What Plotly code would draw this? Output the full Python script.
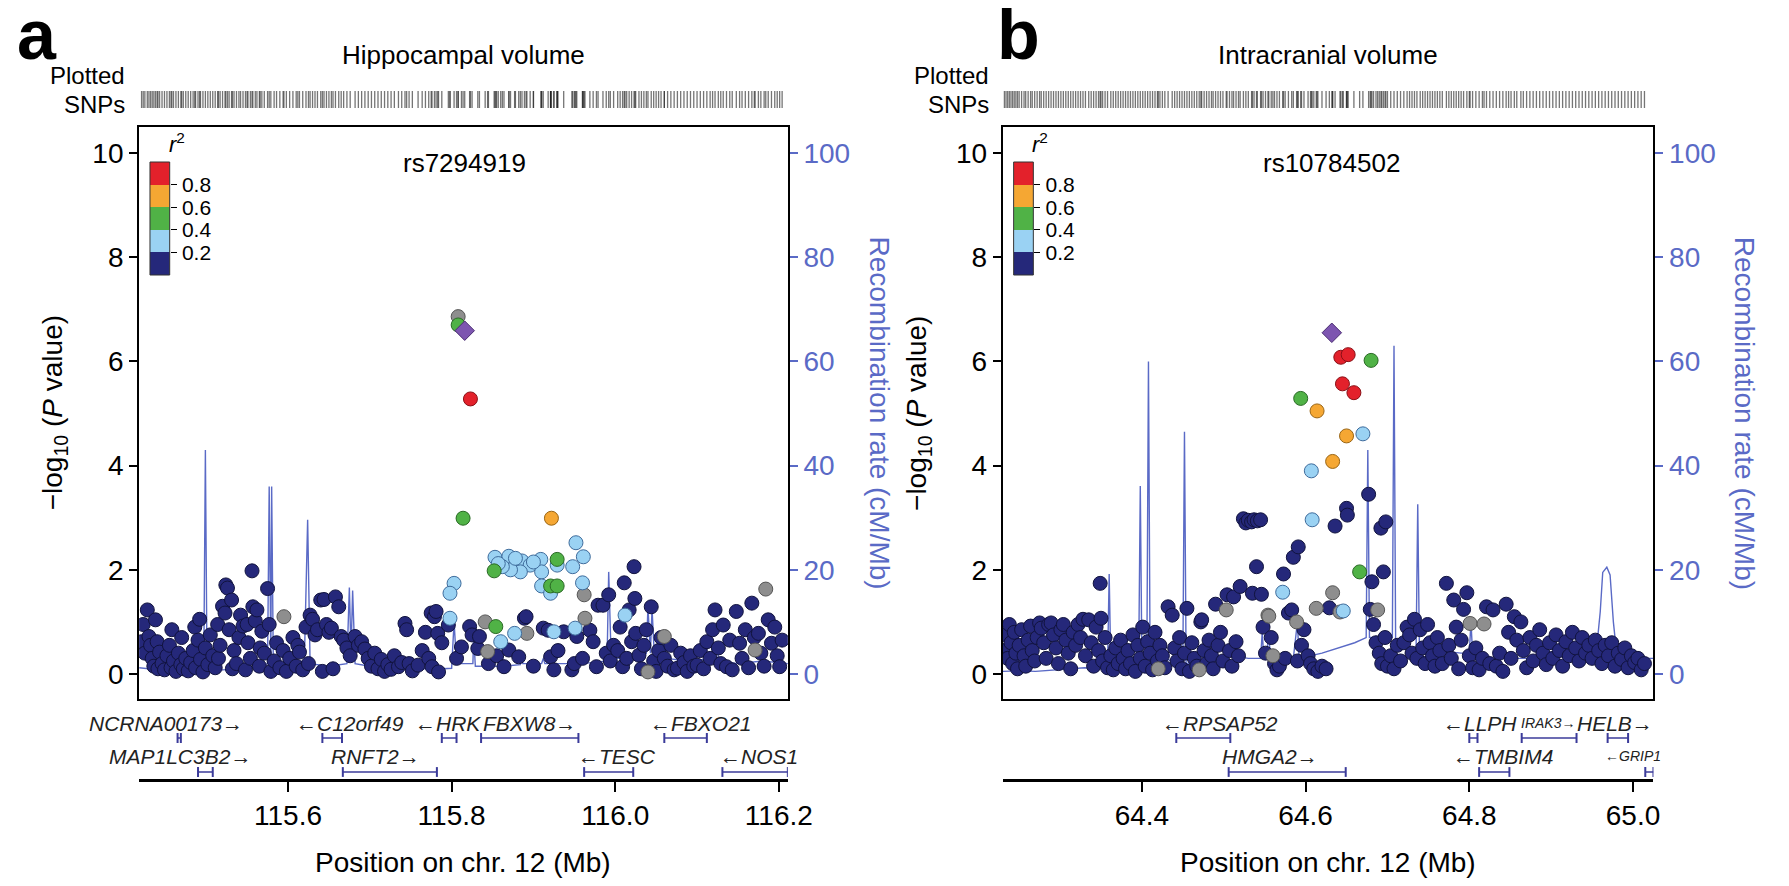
import plotly.graph_objects as go

# ---------------- DATA : panel a (Hippocampal volume) ----------------
a_navy_pos = [115.421,115.423,115.425,115.428,115.430,115.432,115.434,115.436,115.438,115.440,
    115.441,115.443,115.446,115.449,115.452,115.455,115.457,115.458,115.460,115.463,
    115.466,115.469,115.470,115.472,115.475,115.478,115.481,115.484,115.486,115.487,
    115.490,115.492,115.493,115.496,115.499,
    115.502,115.505,115.508,115.511,115.514,115.515,115.517,115.520,115.523,115.524,
    115.526,115.528,115.531,115.532,115.534,115.537,115.540,115.542,115.545,115.548,
    115.550,115.551,115.554,115.556,115.557,115.560,115.562,115.565,115.566,115.568,
    115.571,115.575,115.577,115.579,
    115.583,115.586,115.590,115.594,115.598,115.602,115.606,115.610,115.612,115.614,
    115.618,115.622,115.625,115.627,115.630,115.633,115.636,115.640,115.642,115.644,
    115.647,115.650,115.653,115.655,115.658,115.662,115.665,115.668,115.672,115.676,
    115.682,115.686,115.690,115.694,115.698,115.702,115.706,115.710,115.714,115.718,
    115.722,115.726,115.730,115.735,115.739,115.743,115.745,115.748,115.752,115.759,
    115.764,115.768,115.772,115.775,115.776,115.779,115.781,115.783,115.784,115.788,
    115.796,115.806,115.812,115.822,115.825,115.832,115.834,115.845,115.855,115.864,
    115.870,115.882,115.889,115.891,115.900,115.912,115.918,115.921,115.925,115.930,
    115.937,115.947,115.950,115.953,115.960,115.969,115.973,115.977,115.979,115.985,
    115.989,115.992,115.994,115.998,
    116.003,116.006,116.009,116.011,116.014,116.017,116.020,116.023,116.024,116.025,
    116.029,116.032,116.035,116.038,116.044,116.047,116.050,116.053,116.056,116.060,
    116.064,116.068,116.072,116.076,116.080,116.084,116.088,116.092,116.096,116.100,
    116.104,116.108,116.112,116.116,116.119,116.122,116.126,116.129,116.132,116.136,
    116.140,116.143,116.148,116.152,116.155,116.159,116.163,116.167,116.170,116.175,
    116.178,116.182,116.187,116.191,116.195,116.198,116.201,116.204]
a_navy_logp = [0.62,0.95,0.40,1.23,0.72,0.55,0.30,0.15,1.04,0.62,
    0.10,0.42,0.20,0.08,0.35,0.55,0.12,0.85,0.25,0.05,
    0.40,0.18,0.70,0.10,0.30,0.06,0.22,0.45,0.90,0.12,
    0.65,1.05,0.28,0.04,0.50,
    0.18,0.75,0.35,0.12,0.95,0.30,0.55,1.30,1.17,1.71,
    1.65,0.85,1.42,0.10,0.45,0.20,0.70,1.13,0.92,0.08,
    0.95,0.60,0.30,1.98,1.29,1.02,1.23,0.15,0.50,0.82,
    0.40,1.64,0.95,0.05,
    0.25,0.60,0.12,0.45,0.05,0.30,0.70,0.15,0.55,0.42,
    0.08,0.90,0.20,1.13,1.05,0.75,0.85,1.42,0.05,1.43,
    0.95,0.80,0.88,0.10,1.48,1.29,0.72,0.65,0.50,0.35,
    0.72,0.55,0.62,0.48,0.30,0.15,0.40,0.10,0.28,0.05,
    0.18,0.09,0.35,0.14,0.22,0.97,0.85,0.20,0.06,0.17,
    0.45,0.80,0.30,1.17,0.14,1.10,1.20,0.78,0.04,0.60,
    0.94,0.30,0.52,0.91,0.75,0.49,0.72,0.20,0.35,0.14,
    0.46,0.33,1.07,1.10,0.15,0.88,0.84,0.33,0.08,0.45,
    0.81,0.08,0.20,0.72,0.30,0.84,0.62,0.14,1.32,1.32,
    0.40,1.52,0.25,0.55,
    0.45,0.90,0.14,1.75,0.30,1.23,0.62,2.06,1.45,0.78,
    0.36,0.10,0.55,0.85,1.29,0.25,0.05,0.45,0.70,0.30,
    0.15,0.55,0.08,0.11,0.40,0.22,0.05,0.35,0.15,0.17,
    0.45,0.10,0.62,0.30,0.85,1.23,0.50,0.20,0.94,0.14,
    0.65,0.08,1.20,0.59,0.30,0.85,0.12,1.36,0.70,0.78,
    0.40,0.15,1.04,0.59,0.90,0.35,0.14,0.65]
a_lb_pos = [115.952,115.961,115.948,115.853,115.870,115.886,115.896,115.909,115.884,115.872,
    115.862,115.910,115.929,115.910,115.921,115.960,115.803,115.798,115.798,116.012,
    115.860,115.877,115.925,115.951,115.857,115.878,115.900]
a_lb_logp = [2.52,2.25,2.06,2.24,2.26,2.17,2.09,2.20,1.96,2.00,
    2.06,1.96,2.09,1.69,1.55,1.75,1.74,1.55,1.07,1.13,
    0.62,0.78,0.81,0.88,2.12,2.22,2.15]
a_green_pos = [115.808,115.814,115.852,115.929,115.921,115.929,115.854]
a_green_logp = [6.70,2.99,1.98,2.20,1.69,1.69,0.91]
a_orange_pos = [115.922]
a_orange_logp = [2.99]
a_red_pos = [115.823]
a_red_logp = [5.28]
a_gray_pos = [115.595,115.808,115.841,115.844,115.892,115.962,115.963,116.040,116.060,116.171,116.184]
a_gray_logp = [1.10,6.86,1.00,0.43,0.78,1.52,1.07,0.04,0.72,0.46,1.63]
a_lead_pos = [115.816]
a_lead_logp = [6.59]
a_lead_name = "rs7294919"

a_rec_pos = [115.418,115.440,115.460,115.480,115.497,115.499,115.501,115.520,115.540,115.560,
    115.575,115.577,115.579,115.580,115.582,115.600,115.620,115.624,115.627,115.650,
    115.672,115.675,115.677,115.679,115.682,115.700,115.730,115.760,115.790,115.800,
    115.803,115.806,115.826,115.827,115.829,115.860,115.862,115.864,115.884,115.885,
    115.887,115.910,115.912,115.914,115.960,115.990,115.992,115.995,116.020,116.038,
    116.040,116.043,116.045,116.048,116.055,116.056,116.058,116.060,116.062,116.090,
    116.122,116.124,116.127,116.150,116.180,116.211]
a_rec_rate = [1.2,0.8,0.5,0.6,0.8,43.0,1.0,0.8,1.0,1.2,
    2.0,36.0,3.0,36.0,2.5,2.0,2.5,29.6,2.0,1.5,
    2.0,16.6,4.0,16.0,2.0,1.5,1.2,1.0,1.0,1.1,
    10.0,2.0,2.0,7.2,1.5,1.5,3.5,1.5,1.8,4.0,
    2.0,2.0,3.0,2.0,2.0,2.5,19.6,3.0,3.0,4.0,
    12.9,4.0,12.5,3.0,3.0,8.4,3.0,8.0,3.0,2.5,
    3.0,5.2,2.5,2.0,2.5,2.0]

a_gene_name = ["NCRNA00173", "C12orf49", "HRK", "FBXW8", "FBXO21", "MAP1LC3B2", "RNFT2", "TESC", "NOS1"]
a_gene_start = [115.465, 115.642, 115.788, 115.836, 116.060, 115.490, 115.667, 115.962, 116.131]
a_gene_end = [115.469, 115.666, 115.806, 115.955, 116.112, 115.508, 115.782, 116.022, 116.211]
a_gene_strand = ["+", "-", "-", "+", "-", "+", "+", "-", "-"]
a_gene_row = [1, 1, 1, 1, 1, 2, 2, 2, 2]
a_gene_label_mb = [115.451, 115.676, 115.796, 115.895, 116.105, 115.468, 115.707, 116.002, 116.176]
a_ticks = [115.6, 115.8, 116.0, 116.2]
a_ticktext = ["115.6", "115.8", "116.0", "116.2"]

# ---------------- DATA : panel b (Intracranial volume) ----------------
b_navy_pos = [64.232,64.234,64.236,64.238,64.240,64.242,64.244,64.246,64.248,64.250,
    64.253,64.256,64.258,64.261,64.264,64.266,64.269,64.272,64.275,64.277,
    64.280,64.283,64.286,64.289,64.292,64.295,64.298,64.301,64.304,64.307,
    64.310,64.313,64.316,64.319,64.322,64.325,64.328,64.331,64.335,64.338,
    64.341,64.344,64.347,64.349,64.350,64.352,64.355,64.358,
    64.362,64.365,64.368,64.371,64.374,64.377,64.380,64.383,64.386,64.389,
    64.392,64.395,64.398,64.401,64.404,64.407,64.410,64.413,64.416,64.419,
    64.422,64.425,64.428,64.432,64.437,64.440,64.443,64.446,64.449,64.452,
    64.455,64.458,64.461,64.464,64.467,64.472,64.473,64.476,64.479,
    64.482,64.485,64.487,64.490,64.493,64.496,64.499,64.504,64.507,64.510,
    64.512,64.515,64.518,64.520,64.524,64.527,64.530,64.534,64.535,64.537,
    64.540,64.541,64.545,64.546,64.548,64.551,64.558,64.562,64.565,64.568,
    64.573,64.575,64.579,64.583,64.585,64.590,64.591,64.595,64.598,
    64.603,64.606,64.610,64.615,64.620,64.625,64.629,64.636,64.650,64.651,
    64.677,64.679,64.681,64.683,64.686,64.690,64.692,64.693,64.695,64.697,
    64.698,64.700,64.704,64.708,64.712,64.716,64.720,
    64.724,64.727,64.730,64.733,64.736,64.740,64.743,64.746,64.749,64.752,
    64.755,64.758,64.761,64.764,64.767,64.772,64.775,64.778,64.781,64.784,
    64.787,64.790,64.793,64.797,64.800,64.804,64.808,64.812,64.816,64.821,
    64.825,64.829,64.833,64.837,64.841,64.845,64.848,64.851,64.855,64.858,
    64.863,64.866,64.870,64.874,64.878,64.882,64.886,64.890,64.894,64.898,
    64.902,64.906,64.910,64.914,64.918,64.922,64.926,64.930,64.934,64.938,
    64.942,64.946,64.950,64.954,64.958,64.962,64.966,64.970,64.974,64.978,
    64.982,64.986,64.990,64.994,64.998,65.002,65.006,65.010,65.014]
b_navy_logp = [0.45,0.75,0.30,0.95,0.60,0.20,0.80,0.40,0.10,0.55,
    0.85,0.35,0.15,0.65,0.92,0.45,0.25,0.70,0.98,0.88,
    0.60,0.30,0.95,0.98,0.75,0.50,0.20,0.85,0.95,0.65,
    0.40,0.10,0.80,0.55,0.95,0.70,1.05,0.35,1.04,0.60,
    0.15,0.90,0.45,1.74,1.07,0.25,0.70,0.12,
    0.35,0.08,0.50,0.20,0.65,0.30,0.10,0.45,0.20,0.75,
    0.05,0.55,0.30,0.90,0.15,0.62,0.40,0.08,0.80,0.25,
    0.55,0.35,0.12,1.29,1.13,0.50,0.25,0.70,0.10,0.40,
    1.26,0.05,0.60,0.30,0.15,1.00,1.04,0.45,0.20,
    0.65,0.35,0.10,1.34,0.55,0.80,0.25,1.52,0.45,0.15,
    1.48,0.62,0.35,1.68,2.98,2.90,2.95,2.92,1.55,2.96,
    2.06,2.94,2.96,1.53,0.90,0.40,0.70,0.20,0.08,0.15,
    1.92,0.30,1.17,1.23,2.24,0.25,2.44,0.55,0.85,
    0.35,0.20,0.10,0.05,0.15,0.10,1.27,2.84,3.18,3.05,
    3.45,1.24,1.77,0.95,0.60,0.40,2.80,0.20,1.96,0.70,
    2.92,0.15,0.35,0.10,0.55,0.25,0.60,
    0.90,0.75,0.40,1.05,0.30,0.85,0.50,0.20,0.95,0.60,
    0.35,0.15,0.70,0.45,0.20,1.74,0.55,0.30,1.42,0.90,
    0.10,0.65,1.24,1.56,0.35,0.12,0.50,0.08,0.30,1.29,
    0.20,1.23,0.15,0.40,0.05,1.34,0.80,0.30,1.10,0.65,
    1.00,0.45,0.12,0.70,0.25,0.55,0.85,0.40,0.18,0.60,
    0.30,0.75,0.45,0.15,0.62,0.35,0.80,0.50,0.25,0.70,
    0.40,0.55,0.30,0.65,0.45,0.20,0.55,0.35,0.60,0.15,
    0.40,0.28,0.50,0.12,0.35,0.22,0.30,0.08,0.20]
b_lb_pos = [64.670, 64.607, 64.608, 64.572, 64.646]
b_lb_logp = [4.61, 3.90, 2.96, 1.57, 1.21]
b_green_pos = [64.594, 64.666, 64.680]
b_green_logp = [5.29, 1.96, 6.02]
b_orange_pos = [64.614, 64.650, 64.633]
b_orange_logp = [5.05, 4.57, 4.08]
b_red_pos = [64.643, 64.652, 64.645, 64.659]
b_red_logp = [6.08, 6.13, 5.57, 5.40]
b_gray_pos = [64.503,64.554,64.555,64.589,64.633,64.613,64.642,64.688,64.801,64.818,64.470,64.560,64.420]
b_gray_logp = [1.23,1.13,1.11,1.00,1.56,1.26,1.19,1.23,0.97,0.96,0.08,0.35,0.10]
b_lead_pos = [64.632]
b_lead_logp = [6.55]
b_lead_name = "rs10784502"

b_rec_pos = [64.230,64.250,64.270,64.290,64.310,64.330,64.345,64.358,64.360,64.362,
    64.375,64.396,64.398,64.400,64.406,64.408,64.410,64.420,64.430,64.440,
    64.450,64.452,64.454,64.470,64.480,64.490,64.500,64.510,64.530,64.545,
    64.547,64.549,64.552,64.555,64.557,64.585,64.590,64.592,64.620,64.640,
    64.660,64.674,64.676,64.678,64.700,64.706,64.708,64.710,64.720,64.735,
    64.737,64.739,64.760,64.790,64.800,64.802,64.804,64.830,64.850,64.880,
    64.910,64.940,64.955,64.960,64.963,64.968,64.972,64.976,64.980,65.000,65.025]
b_rec_rate = [0.5,0.6,0.5,0.7,0.9,1.2,1.0,1.5,19.2,1.5,
    1.2,1.5,36.1,2.0,2.0,60.0,2.0,2.5,3.0,2.0,
    2.0,46.5,2.0,2.5,3.0,3.5,3.0,3.5,3.0,3.0,
    8.0,3.0,3.0,8.0,3.0,3.0,10.0,3.0,4.0,5.0,
    6.0,7.0,43.0,7.0,7.0,7.0,63.0,6.0,5.0,5.0,
    32.6,5.0,4.5,4.0,4.0,10.0,4.0,3.0,3.0,3.0,
    2.5,3.0,4.0,12.0,19.5,20.5,19.0,10.0,4.0,3.0,3.0]

b_gene_name = ["RPSAP52", "LLPH", "IRAK3", "HELB", "HMGA2", "TMBIM4", "GRIP1"]
b_gene_start = [64.442, 64.800, 64.864, 64.969, 64.506, 64.812, 65.015]
b_gene_end = [64.508, 64.810, 64.931, 64.994, 64.649, 64.849, 65.025]
b_gene_strand = ["-", "-", "+", "+", "+", "-", "-"]
b_gene_row = [1, 1, 1, 1, 2, 2, 2]
b_gene_label_mb = [64.496, 64.813, 64.896, 64.978, 64.557, 64.841, 65.000]
b_gene_small = ["IRAK3", "GRIP1"]
b_ticks = [64.4, 64.6, 64.8, 65.0]
b_ticktext = ["64.4", "64.6", "64.8", "65.0"]

r2_bin_low = [0.0, 0.2, 0.4, 0.6, 0.8]
r2_bin_width = [0.2, 0.2, 0.2, 0.2, 0.2]
r2_ticks = [0.2, 0.4, 0.6, 0.8]

# ---------------- STYLE ----------------
# the page body keeps an 8 px margin, so the figure is 16 px smaller and every
# layout position below (given in window pixels) is shifted by that margin
W, H = 1789, 886
M = 8
FW, FH = W - 2 * M, H - 2 * M
def px(x): return (x - M) / FW
def py(y): return 1 - (y - M) / FH

FONT = "Liberation Sans Narrow, Arial Narrow, Liberation Sans, Arial, sans-serif"
C_NAVY, C_NAVY_L = "#25287a", "#11133e"
C_LB, C_LB_L = "#9ad2f3", "#3f6c9c"
C_GREEN, C_GREEN_L = "#50b246", "#2a6a25"
C_ORANGE, C_ORANGE_L = "#f5a733", "#9a6514"
C_RED, C_RED_L = "#e3212b", "#8a1016"
C_GRAY, C_GRAY_L = "#8e8e8e", "#555555"
C_LEAD, C_LEAD_L = "#7d55b0", "#4a2d72"
C_REC = "#5a6ac6"
C_GENE = "#3b3b9a"

fig = go.Figure()
annotations = []
shapes = []

def build_panel(letter, letter_x, title, box_left, box_right, xrange_, ids, ticks, ticktext,
                navy, lb, green, orange, red, gray, lead, lead_name, rec, genes, small_genes):
    xm, yrec, ylp, xg, yg, xr, yr, xl, yl = ids
    box_top, box_bot = 127, 699
    dom = [px(box_left), px(box_right)]
    fig.add_trace(go.Scatter(x=rec[0], y=rec[1], mode="lines", xaxis=xm, yaxis=yrec,
                             line=dict(color=C_REC, width=1.4), hoverinfo="skip", showlegend=False))
    groups = [(navy, C_NAVY, C_NAVY_L), (gray, C_GRAY, C_GRAY_L), (lb, C_LB, C_LB_L),
              (green, C_GREEN, C_GREEN_L), (orange, C_ORANGE, C_ORANGE_L), (red, C_RED, C_RED_L)]
    all_pos = []
    for (xs, ys), fc, lc in groups:
        all_pos += list(xs)
        fig.add_trace(go.Scatter(x=xs, y=ys, mode="markers", xaxis=xm, yaxis=ylp,
                                 marker=dict(size=14, color=fc, line=dict(color=lc, width=1)),
                                 showlegend=False, hoverinfo="x+y"))
    all_pos += list(lead[0])
    fig.add_trace(go.Scatter(x=lead[0], y=lead[1], mode="markers", xaxis=xm, yaxis=ylp,
                             marker=dict(size=15, symbol="diamond", color=C_LEAD, line=dict(color=C_LEAD_L, width=1)),
                             showlegend=False))
    fig.add_trace(go.Scatter(x=all_pos, y=[0.5] * len(all_pos), mode="markers", xaxis=xr, yaxis=yr,
                             marker=dict(symbol="line-ns", size=18, line=dict(color="rgba(25,25,25,0.6)", width=1.3)),
                             showlegend=False, hoverinfo="skip"))
    fig.add_trace(go.Bar(x=[0.5] * 5, y=r2_bin_width, base=r2_bin_low, width=1, xaxis=xl, yaxis=yl,
                         marker=dict(color=[C_NAVY, C_LB, C_GREEN, C_ORANGE, C_RED], line=dict(width=0)),
                         showlegend=False, hoverinfo="skip"))
    names, starts, ends, strands, rows, labx = genes
    line_y = {1: 41, 2: 7}
    lab_y = {1: 56, 2: 23}
    for n, s, e, st, r, lx in zip(names, starts, ends, strands, rows, labx):
        fig.add_trace(go.Scatter(x=[s, e], y=[line_y[r], line_y[r]], mode="lines+markers", xaxis=xg, yaxis=yg,
                                 line=dict(color=C_GENE, width=1.5),
                                 marker=dict(symbol="line-ns", size=7, line=dict(color=C_GENE, width=2)),
                                 showlegend=False, hoverinfo="skip"))
        txt = ("\u2190" + n) if st == "-" else (n + "\u2192")
        fs = 14 if n in small_genes else 21
        annotations.append(dict(x=lx, y=lab_y[r], xref=xg, yref=yg, text="<i>" + txt + "</i>",
                                showarrow=False, font=dict(family=FONT, size=fs, color="#222222"),
                                xanchor="center", yanchor="middle"))
    axfont = dict(family=FONT, size=28, color="black")
    lay = {}
    k = lambda a: ("xaxis" if a[0] == "x" else "yaxis") + a[1:]
    lay[k(xm)] = dict(domain=dom, range=xrange_, anchor=yrec, showline=True, mirror=True, linecolor="black",
                      linewidth=2, showticklabels=False, ticks="", showgrid=False, zeroline=False)
    lay[k(yrec)] = dict(domain=[py(box_bot), py(box_top)], range=[-4.8, 105], anchor=xm, side="right",
                        showline=True, linecolor="black", linewidth=2, ticks="outside", ticklen=8,
                        tickwidth=1.5, tickcolor=C_REC, tickvals=[0, 20, 40, 60, 80, 100],
                        tickfont=dict(family=FONT, size=28, color=C_REC), showgrid=False, zeroline=False)
    lay[k(ylp)] = dict(range=[-0.48, 10.5], anchor=xm, overlaying=yrec, side="left", showline=True,
                       linecolor="black", linewidth=2, ticks="outside", ticklen=8, tickwidth=2,
                       tickcolor="black", tickvals=[0, 2, 4, 6, 8, 10], tickfont=axfont,
                       showgrid=False, zeroline=False)
    lay[k(xg)] = dict(domain=dom, range=xrange_, anchor=yg, showline=True, linecolor="black", linewidth=2.5,
                      ticks="outside", ticklen=10, tickwidth=2, tickcolor="black", tickvals=ticks,
                      ticktext=ticktext, tickfont=axfont, showgrid=False, zeroline=False)
    lay[k(yg)] = dict(domain=[py(779), py(705)], range=[0, 74], anchor=xg, visible=False)
    lay[k(xr)] = dict(domain=dom, range=xrange_, anchor=yr, visible=False)
    lay[k(yr)] = dict(domain=[py(108), py(91)], range=[0, 1], anchor=xr, visible=False)
    lx0, lx1 = box_left + 11, box_left + 31
    lay[k(xl)] = dict(domain=[px(lx0), px(lx1)], range=[0, 1], anchor=yl, visible=False, fixedrange=True)
    lay[k(yl)] = dict(domain=[py(275), py(162)], range=[0, 1], anchor=xl, side="right", showline=False,
                      ticks="outside", ticklen=6, tickwidth=1.2, tickcolor="black", tickvals=r2_ticks,
                      tickfont=dict(family=FONT, size=21, color="black"), ticklabelstandoff=1,
                      showgrid=False, zeroline=False, fixedrange=True)
    fig.update_layout(**lay)
    shapes.append(dict(type="rect", xref="paper", yref="paper", x0=px(lx0), x1=px(lx1),
                       y0=py(275), y1=py(162), line=dict(color="#333333", width=1)))
    annotations.append(dict(x=px(lx1 - 3), y=py(143), xref="paper", yref="paper", text="<i>r</i><sup>2</sup>",
                            showarrow=False, font=dict(family=FONT, size=22, color="black"),
                            xanchor="left", yanchor="middle"))

    cx = (box_left + box_right) / 2
    annotations.append(dict(x=px(letter_x), y=py(35), xref="paper", yref="paper", text="<b>" + letter + "</b>",
                            showarrow=False, font=dict(family="Liberation Sans, Arial", size=70, color="black"),
                            xanchor="center", yanchor="middle"))
    annotations.append(dict(x=px(cx), y=py(55), xref="paper", yref="paper", text=title, showarrow=False,
                            font=dict(family=FONT, size=26, color="black"), xanchor="center", yanchor="middle"))
    for t, yy in (("Plotted", 76), ("SNPs", 105)):
        annotations.append(dict(x=px(box_left - 12), y=py(yy), xref="paper", yref="paper", text=t, showarrow=False,
                                font=dict(family=FONT, size=24, color="black"), xanchor="right", yanchor="middle"))
    annotations.append(dict(x=lead[0][0], y=py(163), xref=xm, yref="paper", text=lead_name, showarrow=False,
                            font=dict(family=FONT, size=26, color="black"), xanchor="center", yanchor="middle"))
    annotations.append(dict(x=px(box_left - 85), y=py(413), xref="paper", yref="paper",
                            text="\u2212log<sub>10</sub> (<i>P</i> value)", textangle=-90, showarrow=False,
                            font=dict(family=FONT, size=28, color="black"), xanchor="center", yanchor="middle"))
    annotations.append(dict(x=px(box_right + 92), y=py(413), xref="paper", yref="paper",
                            text="Recombination rate (cM/Mb)", textangle=90, showarrow=False,
                            font=dict(family=FONT, size=28, color=C_REC), xanchor="center", yanchor="middle"))
    annotations.append(dict(x=px(cx), y=py(862), xref="paper", yref="paper", text="Position on chr. 12 (Mb)",
                            showarrow=False, font=dict(family=FONT, size=28, color="black"),
                            xanchor="center", yanchor="middle"))


build_panel("a", 37, "Hippocampal volume", 141, 799, [115.418, 116.211],
            ("x", "y", "y2", "x3", "y3", "x4", "y4", "x9", "y9"), a_ticks, a_ticktext,
            (a_navy_pos, a_navy_logp), (a_lb_pos, a_lb_logp), (a_green_pos, a_green_logp),
            (a_orange_pos, a_orange_logp), (a_red_pos, a_red_logp), (a_gray_pos, a_gray_logp),
            (a_lead_pos, a_lead_logp), a_lead_name, (a_rec_pos, a_rec_rate),
            (a_gene_name, a_gene_start, a_gene_end, a_gene_strand, a_gene_row, a_gene_label_mb), [])
build_panel("b", 1033, "Intracranial volume", 1017, 1677, [64.230, 65.025],
            ("x5", "y5", "y6", "x7", "y7", "x8", "y8", "x10", "y10"), b_ticks, b_ticktext,
            (b_navy_pos, b_navy_logp), (b_lb_pos, b_lb_logp), (b_green_pos, b_green_logp),
            (b_orange_pos, b_orange_logp), (b_red_pos, b_red_logp), (b_gray_pos, b_gray_logp),
            (b_lead_pos, b_lead_logp), b_lead_name, (b_rec_pos, b_rec_rate),
            (b_gene_name, b_gene_start, b_gene_end, b_gene_strand, b_gene_row, b_gene_label_mb), b_gene_small)

fig.update_layout(width=FW, height=FH, margin=dict(l=0, r=0, t=0, b=0), paper_bgcolor="white",
                  plot_bgcolor="rgba(0,0,0,0)", showlegend=False, annotations=annotations, shapes=shapes,
                  font=dict(family=FONT), bargap=0)
fig.write_html("out.html", config={"displayModeBar": False})
